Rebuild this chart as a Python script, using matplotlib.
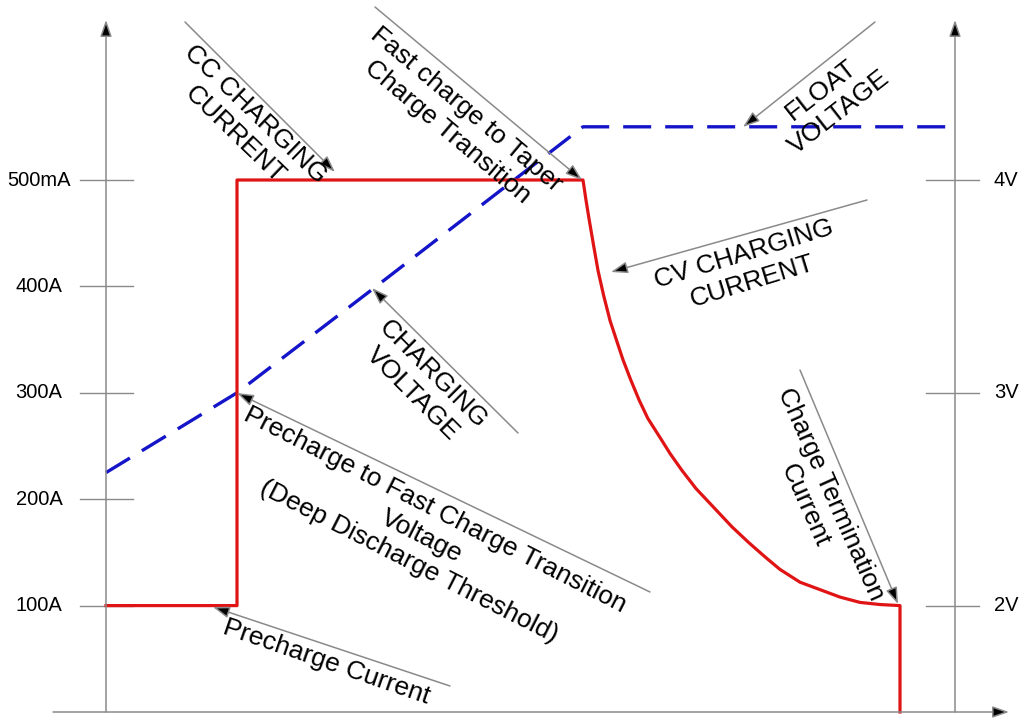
import matplotlib
matplotlib.use('Agg')
import matplotlib.pyplot as plt

plt.rcParams['font.family'] = ['Liberation Sans', 'DejaVu Sans']

# charging current profile (time in arbitrary units, current in mA)
current_t = [0, 13.1, 13.1, 47.7, 48.0, 48.33, 48.75, 49.2, 49.75, 50.4, 51.03,
             51.7, 52.48, 53.32, 54.18, 55.4, 56.4, 57.6, 59.0, 60.7, 62.6,
             64.3, 66.0, 67.4, 69.4, 71.4, 73.4, 75.4, 77.4, 79.4, 79.4]
current_ma = [100, 100, 500, 500, 481, 462, 439, 415, 392, 368, 350,
              331, 312, 293, 276, 258, 243, 227, 210, 193, 174,
              159, 145, 134, 122, 115, 108, 103, 101, 100, 0]

# charging voltage profile (plotted on the same scale as the current)
voltage_t = [0, 13.1, 26.6, 47.7, 84.8]
voltage_lvl = [225, 300, 397, 550, 550]

left_ticks = [100, 200, 300, 400, 500]
left_labels = ['100A', '200A', '300A', '400A', '500mA']
right_ticks = [100, 300, 500]
right_labels = ['2V', '3V', '4V']
x_right = 84.8


# image pixel -> data coordinates (axes fill the whole figure)
def px(x, y):
    return ((x - 106) / 10.0, (712 - y) / 1.064)


fig = plt.figure(figsize=(10.23, 7.19), dpi=100)
ax = fig.add_axes([0, 0, 1, 1])
ax.set_xlim(px(0, 0)[0], px(1023, 0)[0])
ax.set_ylim(px(0, 719)[1], px(0, 0)[1])
ax.axis('off')

gray = '#8a8a8a'
head = dict(arrowstyle='-|>,head_length=1.0,head_width=0.35', fc='black',
            ec=gray, lw=1.1, shrinkA=0, shrinkB=0)

# axes with arrows
ax.annotate('', xy=px(106, 20), xytext=px(106, 712), arrowprops=head)
ax.annotate('', xy=px(955, 20), xytext=px(955, 712), arrowprops=head)
ax.annotate('', xy=px(1009, 712), xytext=px(53, 712), arrowprops=head)

# tick marks and labels
for v, lab in zip(left_ticks, left_labels):
    ax.plot([-2.6, 2.7], [v, v], color=gray, lw=1)
    ax.text(-6.7, v, lab, ha='center', va='center', fontsize=14.5)
for v, lab in zip(right_ticks, right_labels):
    ax.plot([x_right - 2.8, x_right + 2.5], [v, v], color=gray, lw=1)
    ax.text(x_right + 4.0, v, lab, ha='left', va='center', fontsize=14.5)

# curves
ax.plot(voltage_t, voltage_lvl, color='#1414c8', lw=2.4, dashes=(8.4, 4.2))
ax.plot(current_t, current_ma, color='#e01414', lw=2.3)

# annotations: (tip, tail, text, text centre, rotation)
notes = [
    ((335, 172), (185, 22), 'CC CHARGING\nCURRENT', (245, 124), -44),
    ((582, 180), (375, 7), 'Fast charge to Taper\nCharge Transition', (457, 121), -40),
    ((743, 127), (875, 22), 'FLOAT\nVOLTAGE', (830, 101), 38),
    ((611, 272), (867, 200), 'CV CHARGING\nCURRENT', (748, 268), 17),
    ((372, 288), (518, 433), 'CHARGING\nVOLTAGE', (423, 384), -45),
    ((237, 393), (650, 592), 'Precharge to Fast Charge Transition\nVoltage\n(Deep Discharge Threshold)',
     (422, 536), -27),
    ((213, 607), (450, 686), 'Precharge Current', (326, 662), -19),
    ((898, 604), (800, 370), 'Charge Termination\nCurrent', (818, 500), -66),
]
for tip, tail, txt, c, rot in notes:
    ax.annotate('', xy=px(*tip), xytext=px(*tail), arrowprops=head)
    ax.text(*px(*c), txt, rotation=rot, rotation_mode='anchor', ha='center',
            va='center', multialignment='center', fontsize=19, linespacing=1.25)

fig.savefig('out.png', dpi=100)
